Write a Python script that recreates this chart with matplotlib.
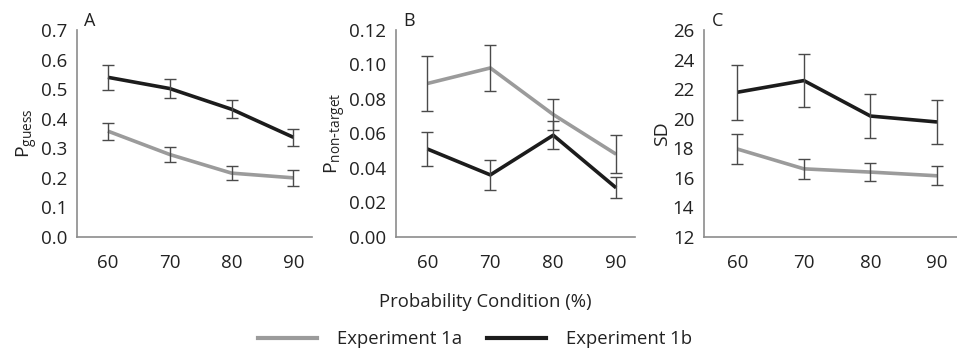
import matplotlib
matplotlib.use("Agg")
import matplotlib.pyplot as plt

plt.rcParams['font.family'] = ['Open Sans', 'DejaVu Sans']

conditions = ['60', '70', '80', '90']

# Panel A: P_guess
guess_1a = [0.358, 0.279, 0.216, 0.200]
guess_1a_err = [0.029, 0.027, 0.024, 0.026]
guess_1b = [0.540, 0.502, 0.432, 0.337]
guess_1b_err = [0.042, 0.033, 0.030, 0.028]

# Panel B: P_non-target
nontarget_1a = [0.089, 0.098, 0.071, 0.048]
nontarget_1a_err = [0.016, 0.0135, 0.009, 0.011]
nontarget_1b = [0.051, 0.036, 0.059, 0.0285]
nontarget_1b_err = [0.010, 0.0085, 0.008, 0.006]

# Panel C: SD
sd_1a = [17.95, 16.61, 16.39, 16.14]
sd_1a_err = [1.03, 0.68, 0.60, 0.64]
sd_1b = [21.79, 22.58, 20.18, 19.78]
sd_1b_err = [1.85, 1.80, 1.46, 1.50]

GRAY = '#9b9b9b'
BLACK = '#1c1c1c'
AXIS = '#8c8c8c'
TEXT = '#222222'

W, H = 957, 348
fig = plt.figure(figsize=(W / 100, H / 100), dpi=100)


def px_axes(left, right, top, bottom):
    return fig.add_axes([left / W, 1 - bottom / H, (right - left) / W, (bottom - top) / H])


panels = [
    (px_axes(77, 312, 30, 237), guess_1a, guess_1a_err, guess_1b, guess_1b_err,
     (0, 0.7), [i / 10 for i in range(8)], '{:.1f}', r'$\mathregular{P_{guess}}$', 'A'),
    (px_axes(396, 635, 30, 237), nontarget_1a, nontarget_1a_err, nontarget_1b, nontarget_1b_err,
     (0, 0.12), [i * 0.02 for i in range(7)], '{:.2f}', r'$\mathregular{P_{non\text{-}target}}$', 'B'),
    (px_axes(704, 957, 30, 237), sd_1a, sd_1a_err, sd_1b, sd_1b_err,
     (12, 26), list(range(12, 27, 2)), '{:.0f}', 'SD', 'C'),
]

x = list(range(len(conditions)))
for ax, a, ae, b, be, ylim, yticks, fmt, ylabel, tag in panels:
    for vals, errs, col in [(a, ae, GRAY), (b, be, BLACK)]:
        ax.plot(x, vals, color=col, lw=2.6, zorder=3, solid_capstyle='butt')
        ax.errorbar(x, vals, yerr=errs, fmt='none', ecolor='#4a4a4a', elinewidth=1.0,
                    capsize=4, capthick=1.0, zorder=4)
    ax.set_xlim(-0.5, 3.3)
    ax.set_ylim(*ylim)
    ax.set_yticks(yticks)
    ax.set_yticklabels([fmt.format(t) for t in yticks])
    ax.set_xticks(x)
    ax.set_xticklabels(conditions)
    ax.tick_params(length=0, labelsize=13.5, colors=TEXT, pad=7)
    ax.tick_params(axis='x', pad=12)
    for s in ['top', 'right']:
        ax.spines[s].set_visible(False)
    for s in ['left', 'bottom']:
        ax.spines[s].set_color(AXIS)
        ax.spines[s].set_linewidth(1.2)
    ax.set_ylabel(ylabel, fontsize=14, color=TEXT, labelpad=1)
    ax.text(0.03, 1.0, tag, transform=ax.transAxes, fontsize=13, color=TEXT,
            ha='left', va='bottom')

fig.text(485 / W, 1 - 302 / H, 'Probability Condition (%)', ha='center', va='center',
         fontsize=13.3, color=TEXT)

h1, = plt.plot([], [], color=GRAY, lw=3, label='Experiment 1a')
h2, = plt.plot([], [], color=BLACK, lw=3, label='Experiment 1b')
fig.legend(handles=[h1, h2], loc='center', bbox_to_anchor=(475 / W, 1 - 339 / H), ncol=2,
           frameon=False, fontsize=13.3, handlelength=3.2, columnspacing=1.3, handletextpad=1.1,
           labelcolor=TEXT)

fig.savefig('out.png', dpi=100)
